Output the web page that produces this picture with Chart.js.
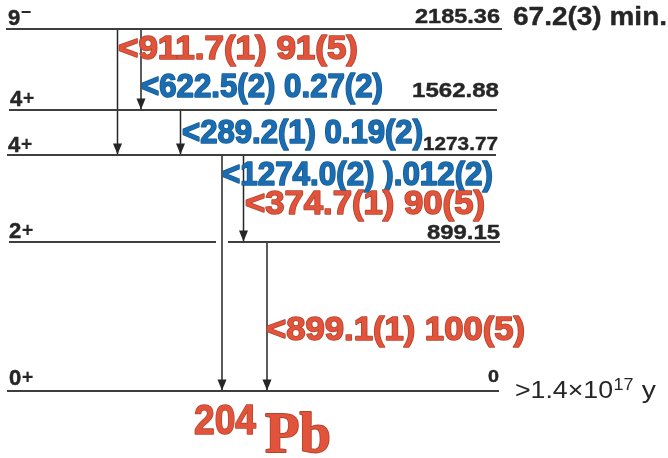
<!DOCTYPE html>
<html><head><meta charset="utf-8">
<script src="https://cdn.jsdelivr.net/npm/chart.js@4"></script>
<style>html,body{margin:0;padding:0;background:#fff}canvas{display:block}</style>
</head><body>
<canvas id="c" width="668" height="458"></canvas>
<script>
// ---------------- data (read from the level scheme) ----------------
const levelEnergyLabels = ['2185.36', '1562.88', '1273.77', '899.15', '0'];
const levelSpins = ['9', '4', '4', '2', '0'];
const levelParities = ['−', '+', '+', '+', '+'];
// drawn height of each level in the (not-to-scale) scheme, in keV-like units
const levelDrawnHeights = [2185.36, 1696, 1424, 899.15, 0];
const levelHalfLives = ['67.2(3) min.', '', '', '', '>1.4×10|17| y'];

const gammaEnergies = ['911.7(1)', '622.5(2)', '289.2(1)', '1274.0(2)', '374.7(1)', '899.1(1)'];
const gammaIntensityLabels = ['91(5)', '0.27(2)', '0.19(2)', ').012(2)', '90(5)', '100(5)'];
const gammaIntensities = [91, 0.27, 0.19, 0.012, 90, 100];
const gammaFromLevel = [0, 0, 1, 2, 2, 3];
const gammaToLevel = [2, 1, 2, 4, 3, 4];

const nucleusMass = '204';
const nucleusSymbol = 'Pb';

// ---------------- layout (positions / sizes / styles) ----------------
const L = {
  yMin: -404.4, yMax: 2360, xMax: 668,
  levelSpans: [[[6, 502]], [[9, 497]], [[7, 496]], [[9, 216], [228, 500]], [[7, 499]]],
  spinX: [8, 10, 8, 9, 9],
  spinLift: [4, 4, 3, 4, 6],
  energyRight: [500, 499, 498, 500, 499],
  energyLift: [6, 13, 5, 3, 9],
  energyWidth: [85, 87, 75, 73, 11],
  energyFont: [20, 21, 19, 20, 17],
  gammaColumns: [117.5, 141, 180.5, 222, 243.5, 267],
  gammaLabelDx: [0.5, 0, 1.5, 0, 1.5, -1],
  gammaLabelDrop: [30, 68, 33, 30, 59, 98],
  gammaLabelWidth: [240, 242, 241, 271, 240, 259],
  red: '#e1533a', redEdge: '#b4442e',
  blue: '#1b6db1', blueEdge: '#165a95',
  ink: '#262626', lineCol: '#3e3e3e'
};
const SANS = '"Liberation Sans", Arial, Helvetica, sans-serif';

function drawText(ctx, s, x, y, font, color, o) {
  o = o || {};
  ctx.save();
  ctx.font = font;
  const w = ctx.measureText(s).width;
  const sx = o.width ? o.width / w : (o.sx || 1);
  const x0 = o.align === 'right' ? x - w * sx : x;
  ctx.translate(x0, y);
  ctx.scale(sx, 1);
  ctx.textAlign = 'left';
  ctx.textBaseline = 'alphabetic';
  if (o.stroke) {
    ctx.lineWidth = o.strokeWidth || 0.7;
    ctx.strokeStyle = o.stroke;
    ctx.lineJoin = 'round';
    ctx.strokeText(s, 0, 0);
  }
  ctx.fillStyle = color;
  ctx.fillText(s, 0, 0);
  ctx.restore();
  return w * sx;
}

const datasets = [];
levelDrawnHeights.forEach((h, i) => {
  L.levelSpans[i].forEach(sp => {
    datasets.push({
      data: [{x: sp[0], y: h}, {x: sp[1], y: h}],
      borderColor: L.lineCol, borderWidth: 2, showLine: true, pointRadius: 0
    });
  });
});
gammaEnergies.forEach((g, i) => {
  datasets.push({
    data: [{x: L.gammaColumns[i], y: levelDrawnHeights[gammaFromLevel[i]]},
           {x: L.gammaColumns[i], y: levelDrawnHeights[gammaToLevel[i]]}],
    borderColor: L.ink, borderWidth: 1.5, showLine: true, pointRadius: 0
  });
});

const schemePlugin = {
  id: 'scheme',
  afterDatasetsDraw(chart) {
    const ctx = chart.ctx, xs = chart.scales.x, ys = chart.scales.y;
    // arrow heads
    gammaEnergies.forEach((g, i) => {
      const px = xs.getPixelForValue(L.gammaColumns[i]);
      const py = ys.getPixelForValue(levelDrawnHeights[gammaToLevel[i]]) - 0.5;
      ctx.save();
      ctx.fillStyle = L.ink;
      ctx.beginPath();
      ctx.moveTo(px, py);
      ctx.lineTo(px - 4.5, py - 11);
      ctx.lineTo(px + 4.5, py - 11);
      ctx.closePath();
      ctx.fill();
      ctx.restore();
    });
    // level labels
    levelDrawnHeights.forEach((h, i) => {
      const py = ys.getPixelForValue(h);
      const by = py - L.spinLift[i];
      const w = drawText(ctx, levelSpins[i], L.spinX[i], by, 'bold 22px ' + SANS, L.ink, {stroke: L.ink, strokeWidth: 0.5});
      if (levelParities[i] === '−') {
        drawText(ctx, '−', L.spinX[i] + w + 0.5, by - 7, 'bold 18px ' + SANS, L.ink);
      } else {
        drawText(ctx, levelParities[i], L.spinX[i] + w + 0.5, by - 1, 'bold 20px ' + SANS, L.ink);
      }
      drawText(ctx, levelEnergyLabels[i], L.energyRight[i], py - L.energyLift[i],
        'bold ' + L.energyFont[i] + 'px ' + SANS, L.ink,
        {align: 'right', width: L.energyWidth[i], stroke: L.ink, strokeWidth: 0.4});
    });
    // half-lives
    const top = ys.getPixelForValue(levelDrawnHeights[0]);
    drawText(ctx, levelHalfLives[0], 513, top - 4, 'bold 25px ' + SANS, L.ink, {width: 154, stroke: L.ink, strokeWidth: 0.4});
    const gnd = ys.getPixelForValue(levelDrawnHeights[4]);
    const parts = levelHalfLives[4].split('|');
    let x = 515;
    x += drawText(ctx, parts[0], x, gnd + 7, '23px ' + SANS, L.ink, {width: 98});
    x += drawText(ctx, parts[1], x + 0.5, gnd - 1, '16px ' + SANS, L.ink, {width: 20});
    drawText(ctx, parts[2], x + 1, gnd + 7, '23px ' + SANS, L.ink, {width: 22});
    // gamma labels
    gammaEnergies.forEach((g, i) => {
      const strong = gammaIntensities[i] >= 1;
      const px = xs.getPixelForValue(L.gammaColumns[i]) + L.gammaLabelDx[i];
      const py = ys.getPixelForValue(levelDrawnHeights[gammaFromLevel[i]]) + L.gammaLabelDrop[i];
      drawText(ctx, '<' + g + ' ' + gammaIntensityLabels[i], px, py,
        'bold 33px ' + SANS, strong ? L.red : L.blue,
        {width: L.gammaLabelWidth[i], stroke: strong ? L.redEdge : L.blueEdge, strokeWidth: 1.6});
    });
    // nucleus name
    drawText(ctx, nucleusMass, 194, 434, 'bold 42px ' + SANS, L.red, {width: 62, stroke: L.redEdge, strokeWidth: 1.6});
    drawText(ctx, nucleusSymbol, 265, 452, 'bold 57px "Liberation Serif", "Times New Roman", serif', L.red, {width: 66, stroke: L.redEdge, strokeWidth: 1.8});
  }
};

new Chart(document.getElementById('c'), {
  type: 'scatter',
  data: { datasets },
  options: {
    responsive: false, animation: false, devicePixelRatio: 1,
    layout: { padding: 0 },
    plugins: { legend: { display: false }, tooltip: { enabled: false } },
    scales: {
      x: { type: 'linear', min: 0, max: L.xMax, display: false },
      y: { type: 'linear', min: L.yMin, max: L.yMax, display: false }
    },
    elements: { line: { tension: 0 } }
  },
  plugins: [schemePlugin]
});
</script>
</body></html>
